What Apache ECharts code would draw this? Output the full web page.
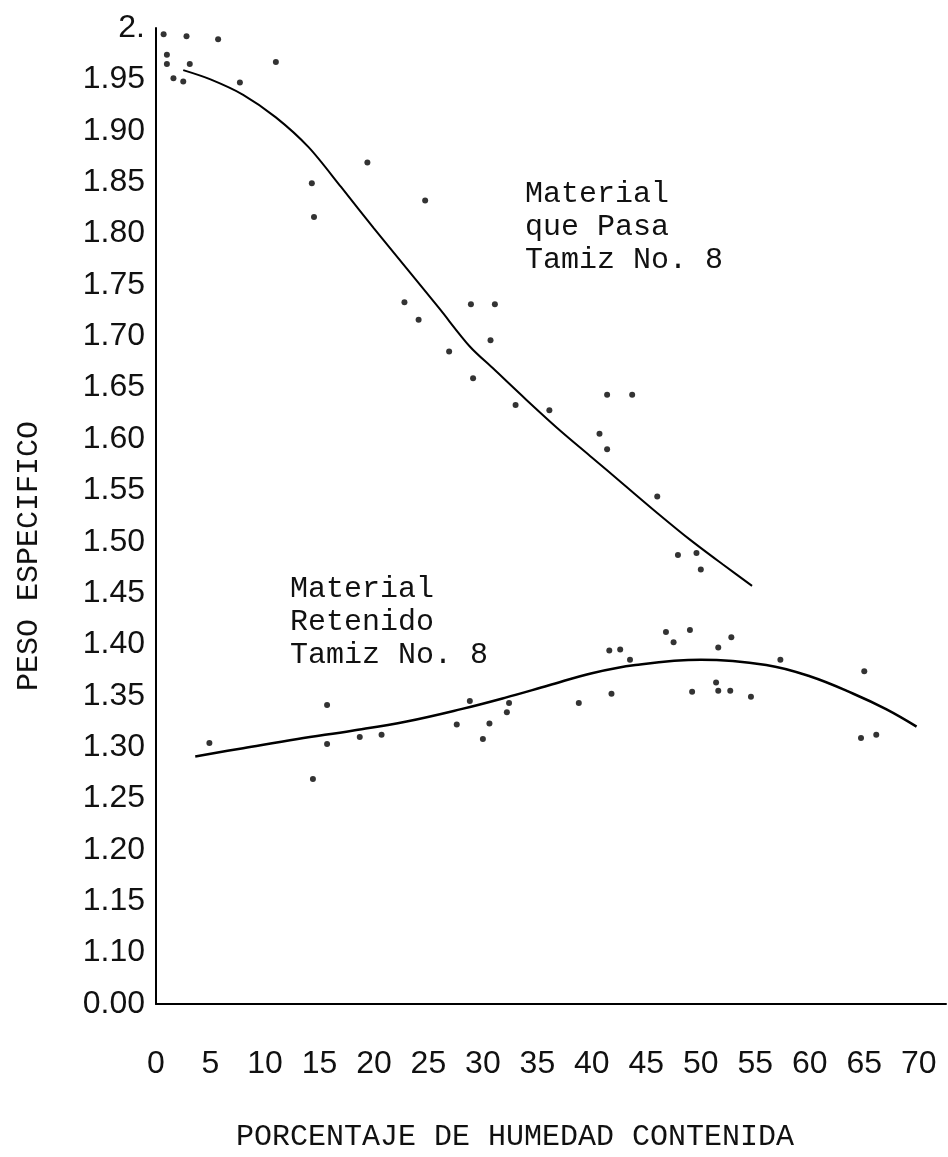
<!DOCTYPE html>
<html>
<head>
<meta charset="utf-8">
<title>Peso especifico vs humedad</title>
<script src="https://cdn.jsdelivr.net/npm/echarts@6/dist/echarts.min.js"></script>
<style>
  html, body { margin: 0; padding: 0; background: #fff; }
  #chart { width: 948px; height: 1157px; }
</style>
</head>
<body>
<div id="chart"></div>
<script>
  // puntos medidos - material que pasa tamiz No. 8  [humedad %, peso especifico]
  var pasaPuntos = [
    [0.7, 1.994], [2.8, 1.992], [5.7, 1.989], [1.0, 1.974], [1.0, 1.965],
    [3.1, 1.965], [1.6, 1.951], [2.5, 1.948], [7.7, 1.947], [11.0, 1.967],
    [14.3, 1.849], [14.5, 1.816], [19.4, 1.869], [24.7, 1.832],
    [22.8, 1.733], [24.1, 1.716], [28.9, 1.731], [31.1, 1.731], [30.7, 1.696],
    [26.9, 1.685], [29.1, 1.659], [33.0, 1.633], [36.1, 1.628], [41.4, 1.643],
    [43.7, 1.643], [40.7, 1.605], [41.4, 1.590], [46.0, 1.544],
    [47.9, 1.487], [49.6, 1.489], [50.0, 1.473]
  ]
  // curva ajustada - material que pasa
  var pasaCurva = [
    [2.5, 1.959], [5, 1.950], [8, 1.935], [11, 1.913], [14, 1.884],
    [17, 1.845], [20, 1.805], [23, 1.766], [26, 1.727], [28.8, 1.690],
    [31, 1.668], [34, 1.638], [37, 1.609], [40, 1.582], [43, 1.555],
    [46, 1.528], [49, 1.502], [52, 1.478], [54.7, 1.457]
  ]
  // puntos medidos - material retenido tamiz No. 8
  var retenidoPuntos = [
    [46.8, 1.412], [49.0, 1.414], [47.5, 1.402], [52.8, 1.407], [51.6, 1.397],
    [41.6, 1.394], [42.6, 1.395], [43.5, 1.385], [57.3, 1.385], [65.0, 1.374],
    [41.8, 1.352], [38.8, 1.343], [32.4, 1.343], [32.2, 1.334], [49.2, 1.354],
    [51.4, 1.363], [51.6, 1.355], [52.7, 1.355], [54.6, 1.349], [64.7, 1.309],
    [66.1, 1.312], [4.9, 1.304], [15.7, 1.341], [15.7, 1.303], [14.4, 1.269],
    [18.7, 1.310], [20.7, 1.312], [27.6, 1.322], [28.8, 1.345], [30.6, 1.323],
    [30.0, 1.308]
  ]
  // curva ajustada - material retenido
  var retenidoCurva = [
    [3.6, 1.291], [8, 1.299], [13, 1.308], [18, 1.316], [23, 1.325],
    [28, 1.337], [32, 1.348], [36, 1.360], [40, 1.372], [44, 1.380],
    [50, 1.385], [56, 1.380], [60, 1.369], [64, 1.352],
    [67, 1.337], [69.8, 1.320]
  ]
  // etiquetas especiales del eje vertical (eje cortado abajo)
  var yEtiquetas = { '1.05': '0.00', '2.00': '2.' }

  var myChart = echarts.init(document.getElementById('chart'))
  var tipo = 'Liberation Mono'

  myChart.setOption({
    backgroundColor: '#fff',
    animation: false,
    grid: {
      left: 156,
      right: 2,
      top: 28,
      bottom: 149
    },
    xAxis: {
      type: 'value',
      min: 0,
      max: 72.5,
      interval: 5,
      name: 'PORCENTAJE DE HUMEDAD CONTENIDA',
      nameLocation: 'middle',
      nameGap: 118,
      nameTextStyle: {
        fontFamily: tipo,
        fontSize: 30,
        color: '#111',
        padding: [0, 72, 0, 0]
      },
      axisLine: { lineStyle: { color: '#000', width: 2 } },
      axisTick: { show: false },
      splitLine: { show: false },
      axisLabel: {
        showMaxLabel: false,
        margin: 44,
        fontFamily: 'Liberation Sans',
        fontSize: 32,
        color: '#111'
      }
    },
    yAxis: {
      type: 'value',
      min: 1.05,
      max: 2.0,
      interval: 0.05,
      name: 'PESO ESPECIFICO',
      nameLocation: 'middle',
      nameRotate: 90,
      nameGap: 112,
      nameTextStyle: {
        fontFamily: tipo,
        fontSize: 30,
        color: '#111',
        padding: [0, 80, 0, 0]
      },
      axisLine: { show: true, lineStyle: { color: '#000', width: 2 } },
      axisTick: { show: false },
      splitLine: { show: false },
      axisLabel: {
        margin: 11,
        fontFamily: 'Liberation Sans',
        fontSize: 32,
        color: '#111',
        formatter: function (v) {
          var k = v.toFixed(2)
          return yEtiquetas[k] || k
        }
      }
    },
    graphic: [
      {
        type: 'text',
        left: 525,
        top: 178,
        style: {
          text: 'Material\nque Pasa\nTamiz No. 8',
          font: '30px "Liberation Mono"',
          lineHeight: 33,
          fill: '#111'
        }
      },
      {
        type: 'text',
        left: 290,
        top: 573,
        style: {
          text: 'Material\nRetenido\nTamiz No. 8',
          font: '30px "Liberation Mono"',
          lineHeight: 33,
          fill: '#111'
        }
      }
    ],
    series: [
      {
        name: 'Pasa puntos',
        type: 'scatter',
        data: pasaPuntos,
        symbolSize: 6,
        itemStyle: { color: '#000' }
      },
      {
        name: 'Pasa curva',
        type: 'line',
        data: pasaCurva,
        smooth: 0.3,
        showSymbol: false,
        lineStyle: { color: '#000', width: 2 }
      },
      {
        name: 'Retenido puntos',
        type: 'scatter',
        data: retenidoPuntos,
        symbolSize: 6,
        itemStyle: { color: '#000' }
      },
      {
        name: 'Retenido curva',
        type: 'line',
        data: retenidoCurva,
        smooth: 0.4,
        showSymbol: false,
        lineStyle: { color: '#000', width: 2.5 }
      }
    ]
  })
</script>
</body>
</html>
